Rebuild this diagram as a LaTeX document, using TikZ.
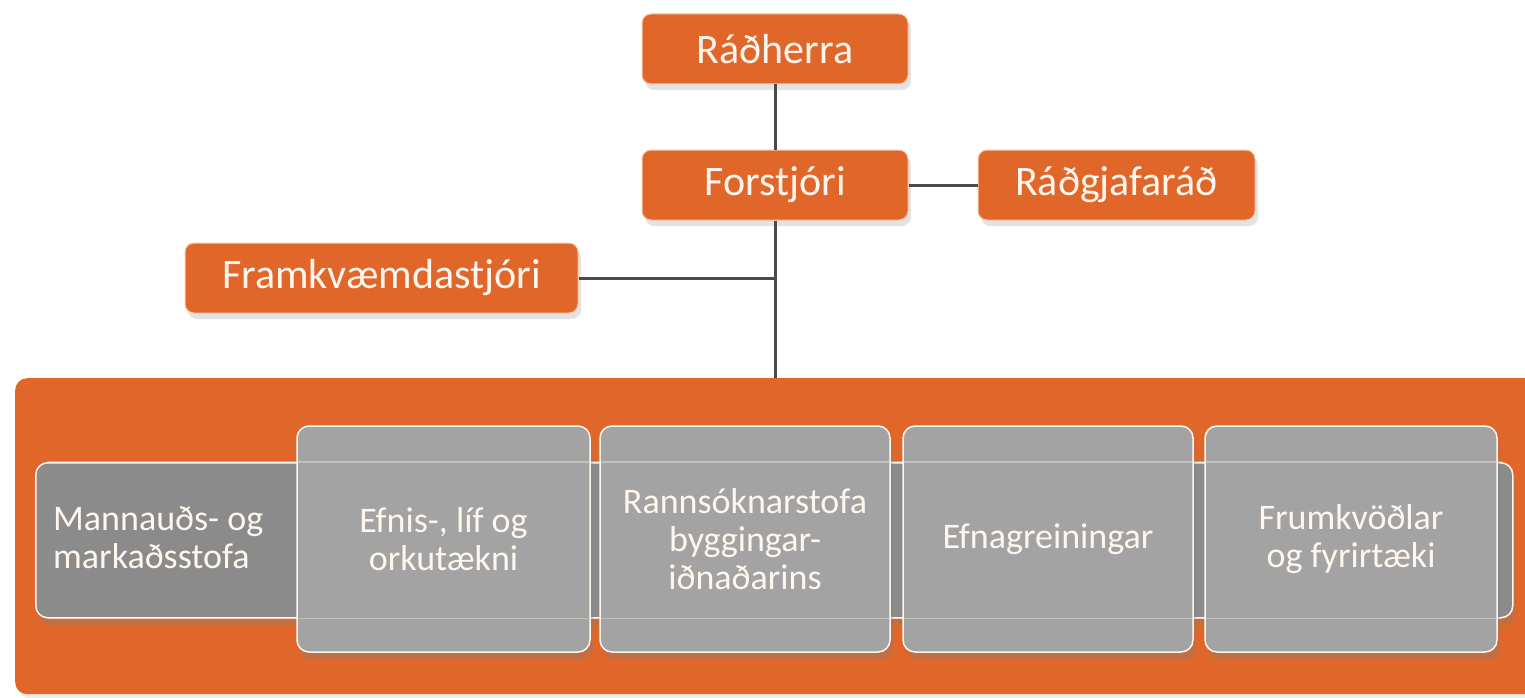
\documentclass[tikz,border=0pt]{standalone}
\usepackage{fontspec}
\setmainfont{Carlito}
\usetikzlibrary{shadows}
\definecolor{org}{HTML}{E1662A}
\definecolor{orgedge}{HTML}{F7C9A8}
\definecolor{bargray}{HTML}{8B8B8B}
\definecolor{boxgray}{HTML}{A3A3A3}
\definecolor{linegray}{HTML}{4A4A4A}
\definecolor{txt}{HTML}{FFF6EE}
\tikzset{
  obox/.style={fill=org, draw=orgedge, line width=1pt, rounded corners=9pt,
    text=txt, font=\fontsize{42}{46}\selectfont, minimum width=266pt,
    minimum height=70pt, inner sep=0pt,
    drop shadow={opacity=0.22, shadow xshift=3pt, shadow yshift=-6pt}},
  gbox/.style={fill=boxgray, draw=txt, line width=1.5pt, rounded corners=12pt,
    text=txt, font=\fontsize{36}{38}\selectfont, align=center,
    minimum height=226pt, inner sep=0pt,
    drop shadow={opacity=0.3, shadow xshift=3pt, shadow yshift=-8pt}},
  conn/.style={draw=linegray, line width=3pt}
}
\begin{document}
\begin{tikzpicture}[x=1pt,y=-1pt]
\useasboundingbox (0,0) rectangle (1525,698);
\fill[white] (0,0) rectangle (1525,698);
\clip (0,0) rectangle (1525,698);

% big orange unit area
\node[fill=org, rounded corners=12pt, minimum width=1540pt, minimum height=316pt,
  inner sep=0pt, anchor=north west,
  drop shadow={opacity=0.15, shadow xshift=2pt, shadow yshift=-4pt}] (unit) at (15,378) {};

% top boxes
\node[obox] (rad) at (775,49) {Ráðherra};
\node[obox] (for) at (775,185) {Forstjóri};
\node[obox, minimum width=277pt] (rgj) at (1116.5,185) {Ráðgjafaráð};
\node[obox, minimum width=393pt] (frk) at (381.5,278) {Framkvæmdastjóri};

% connectors
\draw[conn] (rad) -- (for);
\draw[conn] (for) -- (rgj);
\draw[conn] (for.south) -- (for.south |- unit.north);
\draw[conn] (frk.east) -- (frk.east -| for.south);

% gray bar
\node[fill=bargray, draw=txt, line width=1.5pt, rounded corners=12pt,
  minimum width=1477pt, minimum height=155pt, inner sep=0pt, anchor=north west,
  drop shadow={opacity=0.3, shadow xshift=3pt, shadow yshift=-8pt}] (bar) at (35,462) {};
\node[text=txt, font=\fontsize{36}{38}\selectfont, align=left, anchor=west, inner sep=0pt]
  (mann) at (53,538) {Mannauðs- og\\markaðsstofa};

% lighter boxes
\node[gbox, minimum width=293pt] (b1) at (443.5,539) {Efnis-, líf og\\orkutækni};
\node[gbox, minimum width=290pt] (b2) at (745,539) {Rannsóknarstofa\\byggingar-\\iðnaðarins};
\node[gbox, minimum width=290pt] (b3) at (1048,539) {Efnagreiningar};
\node[gbox, minimum width=292pt] (b4) at (1351,539) {Frumkvöðlar\\og fyrirtæki};

% bar outline showing through the translucent boxes
\draw[txt, opacity=0.35, line width=1.5pt] (bar.north west) ++(12,0) -- ([xshift=-12pt]bar.north east);
\draw[txt, opacity=0.35, line width=1.5pt] (bar.south west) ++(12,0) -- ([xshift=-12pt]bar.south east);
\end{tikzpicture}
\end{document}
